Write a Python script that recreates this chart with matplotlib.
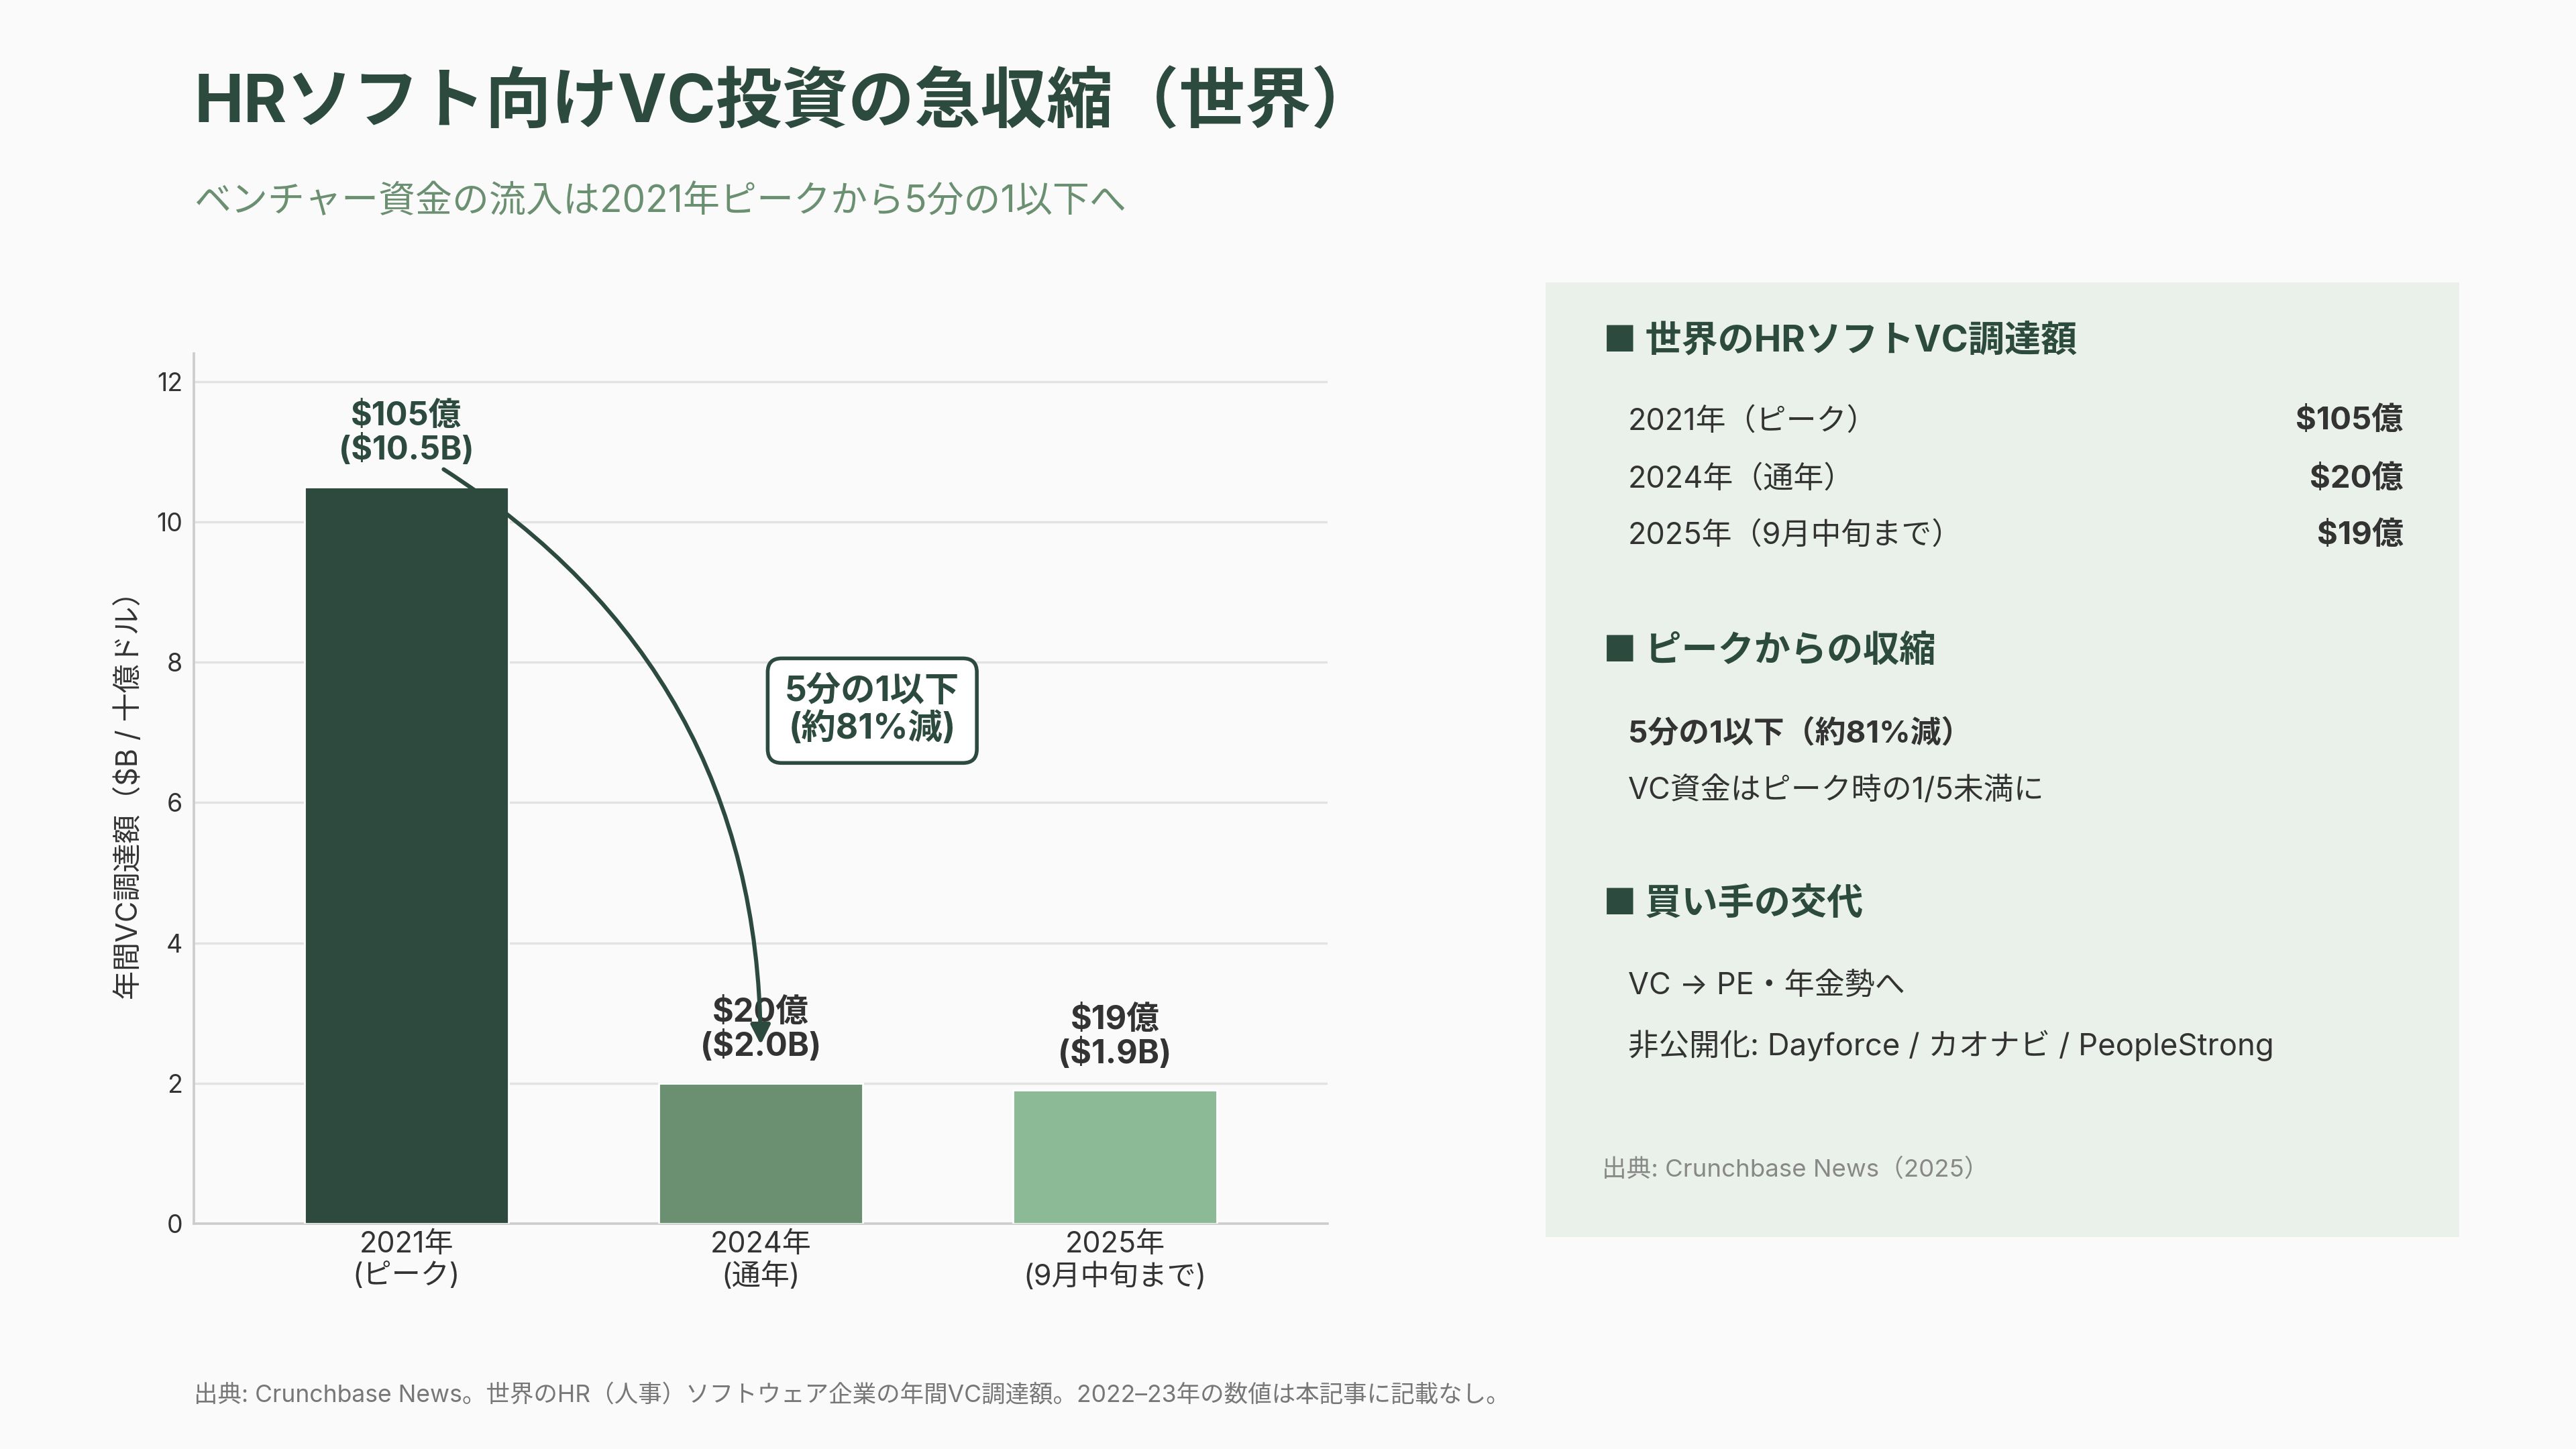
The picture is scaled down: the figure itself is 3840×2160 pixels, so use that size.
import matplotlib
matplotlib.use("Agg")
import matplotlib.pyplot as plt
from matplotlib.patches import Rectangle

plt.rcParams['font.family'] = ['Inter', 'Noto Sans CJK JP', 'DejaVu Sans']

# ---- data ----
categories = ["2021年\n(ピーク)", "2024年\n(通年)", "2025年\n(9月中旬まで)"]
values = [10.5, 2.0, 1.9]
value_labels = ["$105億\n($10.5B)", "$20億\n($2.0B)", "$19億\n($1.9B)"]
yticks = [0, 2, 4, 6, 8, 10, 12]

panel_rows = [("2021年（ピーク）", "$105億"),
              ("2024年（通年）", "$20億"),
              ("2025年（9月中旬まで）", "$19億")]

title = "HRソフト向けVC投資の急収縮（世界）"
subtitle = "ベンチャー資金の流入は2021年ピークから5分の1以下へ"
ylabel = "年間VC調達額（$B / 十億ドル）"
callout = "5分の1以下\n(約81%減)"
footer = "出典: Crunchbase News。世界のHR（人事）ソフトウェア企業の年間VC調達額。2022–23年の数値は本記事に記載なし。"

# ---- style ----
BG = "#fafafa"
DARK = "#2d4a3e"
SAGE = "#6b8f71"
TEXT = "#333333"
bar_colors = ["#2e4a3f", "#6b9071", "#8cb996"]
label_colors = [DARK, TEXT, TEXT]

fig = plt.figure(figsize=(19.2, 10.8), dpi=200, facecolor=BG)
ax = fig.add_axes([0.0753, 0.1556, 0.4400, 0.6004])
ax.set_facecolor(BG)

x = list(range(len(values)))
bars = ax.bar(x, values, width=0.575, color=bar_colors, edgecolor="white",
              linewidth=1.0, zorder=3)

ax.set_xlim(-0.6, 2.6)
ax.set_ylim(0, 12.4)
ax.set_yticks(yticks)
ax.set_xticks(x)
ax.set_xticklabels(categories, fontsize=15.5, color=TEXT, linespacing=1.18)
ax.tick_params(axis='y', labelsize=13.5, colors=TEXT, length=0, pad=6)
ax.tick_params(axis='x', length=0, pad=4)
ax.grid(axis='y', color="#e2e2e2", linewidth=1.2, zorder=0)
for s in ["top", "right"]:
    ax.spines[s].set_visible(False)
for s in ["left", "bottom"]:
    ax.spines[s].set_color("#cccccc")
    ax.spines[s].set_linewidth(1.3)
ax.set_ylabel(ylabel, fontsize=15.5, color=TEXT, labelpad=7)

for xi, v, lab, c in zip(x, values, value_labels, label_colors):
    ax.annotate(lab, xy=(xi, v), xytext=(0, 11), textcoords="offset points",
                ha="center", va="bottom", fontsize=17.5, fontweight="bold",
                color=c, linespacing=1.08, zorder=5)

# curved arrow from peak to 2024
ax.annotate("", xy=(1.0, 2.55), xytext=(0.105, 10.75),
            arrowprops=dict(arrowstyle="-|>", color=DARK, lw=2.2,
                            mutation_scale=22,
                            connectionstyle="arc3,rad=-0.27",
                            shrinkA=0, shrinkB=0),
            zorder=6)

ax.text(1.315, 7.31, callout, ha="center", va="center", fontsize=18.5,
        fontweight="bold", color=DARK, linespacing=1.12, zorder=7,
        bbox=dict(boxstyle="round,pad=0.5,rounding_size=0.4", fc="white",
                  ec=DARK, lw=2.0))

# ---- titles ----
fig.text(0.0753, 0.9285, title, fontsize=35.5, fontweight="bold", color=DARK,
         ha="left", va="center")
fig.text(0.0753, 0.8605, subtitle, fontsize=19.8, color=SAGE,
         ha="left", va="center")
fig.text(0.0753, 0.037, footer, fontsize=12.8, color="#777777",
         ha="left", va="center")

# ---- right panel ----
panel = Rectangle((0.600, 0.1463), 0.3547, 0.6587, transform=fig.transFigure,
                  facecolor="#eaf1ea", edgecolor="none", zorder=0)
fig.patches.append(panel)

dy = -0.0028
hx = 0.6224
fig.text(hx, 0.7675 + dy, "■ 世界のHRソフトVC調達額", fontsize=19.5,
         fontweight="bold", color=DARK, ha="left", va="center")
row_y = [0.712, 0.672, 0.633]
for (lab, val), yy in zip(panel_rows, row_y):
    fig.text(0.632, yy + dy, lab, fontsize=16.2, color=TEXT, ha="left",
             va="center")
    fig.text(0.933, yy + dy, val, fontsize=17, fontweight="bold", color=TEXT,
             ha="right", va="center")

fig.text(hx, 0.553 + dy, "■ ピークからの収縮", fontsize=19.5, fontweight="bold",
         color=DARK, ha="left", va="center")
fig.text(0.632, 0.4967 + dy, "5分の1以下（約81%減）", fontsize=16.5,
         fontweight="bold", color=TEXT, ha="left", va="center")
fig.text(0.632, 0.457 + dy, "VC資金はピーク時の1/5未満に", fontsize=16.2,
         color=TEXT, ha="left", va="center")

fig.text(hx, 0.3787 + dy, "■ 買い手の交代", fontsize=19.5, fontweight="bold",
         color=DARK, ha="left", va="center")
fig.text(0.632, 0.3218 + dy, "VC → PE・年金勢へ", fontsize=16.2,
         color=TEXT, ha="left", va="center")
fig.text(0.632, 0.281 + dy, "非公開化: Dayforce / カオナビ / PeopleStrong",
         fontsize=16.4, color=TEXT, ha="left", va="center")
fig.text(0.622, 0.196 + dy, "出典: Crunchbase News（2025）", fontsize=13.2,
         color="#888888", ha="left", va="center")

fig.savefig("out.png", dpi=200, facecolor=BG)
